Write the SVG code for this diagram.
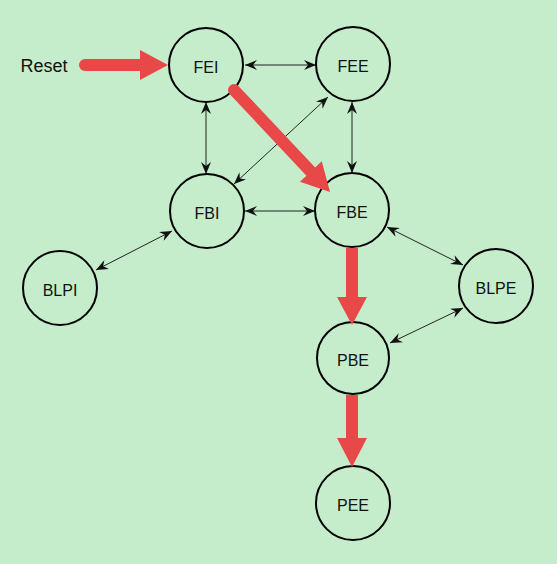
<svg xmlns="http://www.w3.org/2000/svg" width="557" height="564" viewBox="0 0 557 564">
<style>
.node circle{fill:none;stroke:#000;stroke-width:2}
.node text,.lbl{font-family:"Liberation Sans",Arial,sans-serif;fill:#111;text-anchor:middle}
.node text{font-size:16px}
.edge{stroke:#222;stroke-width:1;fill:none;marker-start:url(#ah);marker-end:url(#ah)}
.red{fill:#e84848}
</style>
<defs>
<marker id="ah" viewBox="0 0 12 10" refX="12" refY="5" markerWidth="12" markerHeight="10" markerUnits="userSpaceOnUse" orient="auto-start-reverse">
<path d="M0,0 L12,5 L0,10 L4,5 Z" fill="#111"/>
</marker>
</defs>
<rect width="557" height="564" fill="#c6edcb"/>
<g id="connectors">
<line class="edge" x1="245" y1="65" x2="316" y2="65"/>
<line class="edge" x1="206" y1="102" x2="206" y2="174"/>
<line class="edge" x1="352" y1="102" x2="352" y2="173"/>
<line class="edge" x1="328" y1="97" x2="234" y2="184"/>
<line class="edge" x1="245" y1="211" x2="315" y2="211"/>
<line class="edge" x1="96" y1="270" x2="172" y2="231"/>
<line class="edge" x1="387" y1="227" x2="463" y2="265"/>
<line class="edge" x1="390" y1="343" x2="463" y2="308"/>
</g>
<g id="FEI" class="node"><circle cx="206" cy="65" r="37"/><text x="206" y="73">FEI</text></g>
<g id="FEE" class="node"><circle cx="353" cy="64" r="37"/><text x="353" y="72">FEE</text></g>
<g id="FBI" class="node"><circle cx="207" cy="211" r="37"/><text x="207" y="219">FBI</text></g>
<g id="FBE" class="node"><circle cx="352" cy="210" r="37"/><text x="352" y="218">FBE</text></g>
<g id="BLPI" class="node"><circle cx="60" cy="288" r="37"/><text x="60" y="296">BLPI</text></g>
<g id="BLPE" class="node"><circle cx="496" cy="286" r="37"/><text x="496" y="294">BLPE</text></g>
<g id="PBE" class="node"><circle cx="353" cy="358" r="36"/><text x="353" y="366">PBE</text></g>
<g id="PEE" class="node"><circle cx="353" cy="503" r="37"/><text x="353" y="511">PEE</text></g>
<g id="Reset"><text class="lbl" x="44" y="72" style="font-size:18px">Reset</text></g>
<g id="red-arrows">
<path class="red" transform="translate(85,65)" d="M0,-6 L55,-6 L55,-15 L83,0 L55,15 L55,6 L0,6 A6,6 0 0 1 0,-6 Z"/>
<path class="red" transform="translate(234,90) rotate(46.7)" d="M0,-6 L112,-6 L112,-15 L140,0 L112,15 L112,6 L0,6 A6,6 0 0 1 0,-6 Z"/>
<path class="red" transform="translate(352,248) rotate(90)" d="M0,-6 L49,-6 L49,-15 L77,0 L49,15 L49,6 L0,6 Z"/>
<path class="red" transform="translate(352,395) rotate(90)" d="M0,-6 L43,-6 L43,-15 L72,0 L43,15 L43,6 L0,6 Z"/>
</g>
</svg>
